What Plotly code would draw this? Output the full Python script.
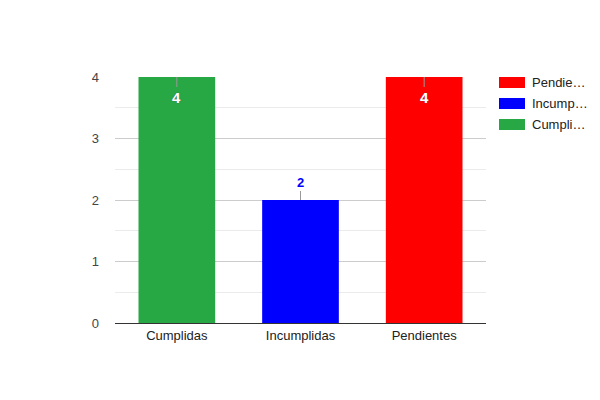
import plotly.graph_objects as go

categorias = ["Cumplidas", "Incumplidas", "Pendientes"]
valores = [4, 2, 4]
colores = ["#28a745", "#0000ff", "#ff0000"]
leyenda = ["Pendie…", "Incump…", "Cumpli…"]
colores_leyenda = ["#ff0000", "#0000ff", "#28a745"]

fig = go.Figure()
fig.add_trace(go.Bar(x=categorias, y=valores, marker_color=colores,
                     marker_line_width=0, width=0.62, hoverinfo="x+y"))

# etiquetas de valor con su linea
for c, v, col in zip(categorias, valores, colores):
    if v >= 3:
        fig.add_annotation(x=c, y=v, text="%d" % v, showarrow=True,
                           ax=0, ay=20, arrowhead=0, arrowwidth=1,
                           arrowcolor="#999999", standoff=0,
                           font=dict(family="Liberation Sans", size=15, color="white",
                                     weight="bold",
                                     shadow="0px 0px 1px #555555"))
    else:
        fig.add_annotation(x=c, y=v, text="<b>%d</b>" % v, showarrow=True,
                           ax=0, ay=-18, arrowhead=0, arrowwidth=1,
                           arrowcolor="#999999", standoff=0,
                           font=dict(family="Liberation Sans", size=13, color=col))

# leyenda hecha a mano
for i, (t, col) in enumerate(zip(leyenda, colores_leyenda)):
    y0 = 1 - i * 21 / 246
    fig.add_shape(type="rect", xref="paper", yref="paper",
                  x0=1 + 13 / 371, x1=1 + 39 / 371, y0=y0 - 11 / 246, y1=y0,
                  fillcolor=col, line_width=0)
    fig.add_annotation(xref="paper", yref="paper", x=1 + 44 / 371, y=y0 - 5.5 / 246,
                       text=t, showarrow=False, xanchor="left", yanchor="middle",
                       font=dict(family="Liberation Sans", size=13, color="#222222"))

fig.update_layout(
    width=600, height=400,
    margin=dict(l=107, r=122, t=69, b=85),
    plot_bgcolor="white", paper_bgcolor="white",
    showlegend=False,
    font=dict(family="Liberation Sans", size=13, color="#444444"),
    xaxis=dict(showgrid=False, ticks="", showline=True, linecolor="#333333",
               linewidth=1, tickfont=dict(color="#222222")),
    yaxis=dict(range=[0, 4], dtick=1, showgrid=True, gridcolor="#cccccc",
               zeroline=False, ticks="", ticklabelstandoff=15,
               minor=dict(dtick=0.5, showgrid=True, gridcolor="#ebebeb")),
)

fig.write_html("out.html")
